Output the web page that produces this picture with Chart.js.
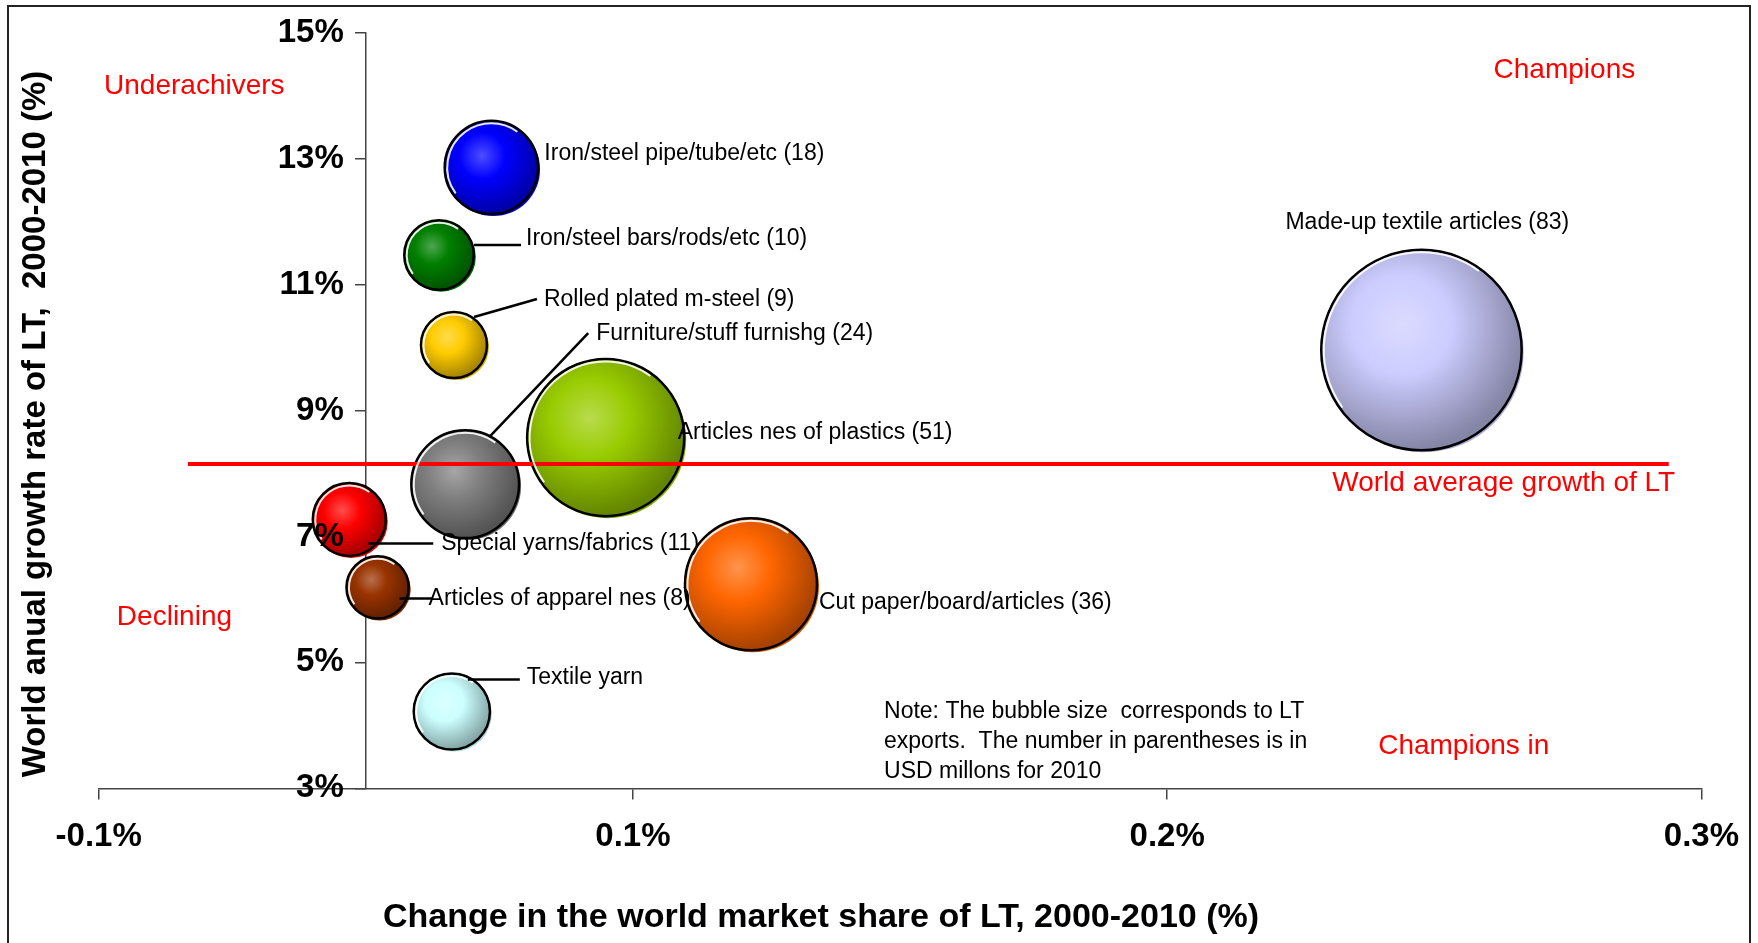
<!DOCTYPE html>
<html>
<head>
<meta charset="utf-8">
<script src="https://cdn.jsdelivr.net/npm/chart.js@4.4.1/dist/chart.umd.min.js"></script>
<style>
  html, body { margin: 0; padding: 0; background: #fff; overflow: hidden; }
  #wrap { width: 1758px; height: 943px; position: relative; }
</style>
</head>
<body>
<div id="wrap"><canvas id="chartLT"></canvas></div>
<script>
// LT products: change in world market share vs world growth, bubble = LT exports 2010 (USD millions)
const productos = ['Iron/steel pipe/tube/etc', 'Iron/steel bars/rods/etc', 'Rolled plated m-steel',
    'Furniture/stuff furnishg', 'Articles nes of plastics', 'Special yarns/fabrics',
    'Articles of apparel nes', 'Cut paper/board/articles', 'Textile yarn', 'Made-up textile articles'];
const cambioCuota = [0.0235, 0.0137, 0.0165, 0.0186, 0.0449, -0.0031, 0.0022, 0.0721, 0.0161, 0.1976];
const crecimiento = [12.86, 11.47, 10.04, 7.83, 8.57, 7.27, 6.19, 6.24, 4.22, 9.96];
const exportaciones = [18, 10, 9, 24, 51, 11, 8, 36, 12, 83];
const mostrarValor = [true, true, true, true, true, true, true, true, false, true];

// world average growth line
const promedioMundial = 8.15;
const promedioRango = [-0.0333, 0.2439];

const xTicks = [-0.05, 0.05, 0.15, 0.25];
const xTickLabels = ['-0.1%', '0.1%', '0.2%', '0.3%'];
const yTicks = [3, 5, 7, 9, 11, 13, 15];
const yTickLabels = ['3%', '5%', '7%', '9%', '11%', '13%', '15%'];

const colores = ['#0000FF', '#008000', '#FFCC00', '#808080', '#99CC00',
    '#FF0000', '#993300', '#FF6600', '#CCFFFF', '#CCCCFF'];

// label placement, pixel offsets from bubble centre (text left/middle, leader line)
const etiquetas = [
    { tx: 53, ty: -14 },
    { tx: 87, ty: -16, line: [35, -10, 82, -10] },
    { tx: 90, ty: -45, line: [20, -28, 83, -46] },
    { tx: 131, ty: -151, line: [24, -47, 123, -151] },
    { tx: 72, ty: -5 },
    { tx: 92, ty: 24, line: [19, 24, 84, 24] },
    { tx: 51, ty: 11, line: [22, 11, 55, 11] },
    { tx: 68, ty: 18 },
    { tx: 75, ty: -34, line: [16, -32, 68, -32] },
    { tx: -136, ty: -127 }
];

const cuadrantes = [
    { text: 'Underachivers', x: -0.0490, y: 14.15 },
    { text: 'Champions', x: 0.2111, y: 14.40 },
    { text: 'Declining', x: -0.0466, y: 5.72 },
    { text: 'World average growth of LT', x: 0.1809, y: 7.85 },
    { text: 'Champions in', x: 0.1895, y: 3.66 }
];
const nota = ['Note: The bubble size  corresponds to LT', 'exports.  The number in parentheses is in', 'USD millons for 2010'];
const notaPos = { x: 0.0970, y: 4.21 };

const FAMILIA = '"Liberation Sans", Arial, sans-serif';
Chart.defaults.font.family = FAMILIA;

function mezclar(hex, destino, t) {
    const a = parseInt(hex.slice(1), 16);
    const r = (a >> 16) & 255, g = (a >> 8) & 255, b = a & 255;
    const m = (c, d) => Math.round(c + (d - c) * t);
    return 'rgb(' + m(r, destino) + ',' + m(g, destino) + ',' + m(b, destino) + ')';
}

function radio(v) {
    return 11 * Math.sqrt(v);
}

function rellenoBurbuja(ctx) {
    const i = ctx.dataIndex;
    if (i === undefined) return colores[0];
    const chart = ctx.chart;
    if (!chart.chartArea) return colores[i];
    const px = chart.scales.x.getPixelForValue(cambioCuota[i]);
    const py = chart.scales.y.getPixelForValue(crecimiento[i]);
    const r = radio(exportaciones[i]);
    const g = chart.ctx.createRadialGradient(px - 0.2 * r, py - 0.25 * r, 0, px - 0.2 * r, py - 0.25 * r, r * 1.25);
    g.addColorStop(0, mezclar(colores[i], 255, 0.3));
    g.addColorStop(0.4, colores[i]);
    g.addColorStop(1, mezclar(colores[i], 0, 0.35));
    return g;
}

const anotaciones = {
    id: 'anotaciones',
    beforeDatasetsDraw(chart) {
        const ctx = chart.ctx;
        const meta = chart.getDatasetMeta(1);
        ctx.save();
        meta.data.forEach((el, i) => {
            ctx.fillStyle = mezclar(colores[i], 0, 0.15);
            ctx.beginPath();
            ctx.arc(el.x + 2, el.y + 2, radio(exportaciones[i]), 0, Math.PI * 2);
            ctx.fill();
        });
        ctx.restore();
    },
    afterDatasetsDraw(chart) {
        const ctx = chart.ctx;
        const sx = chart.scales.x, sy = chart.scales.y;
        const meta = chart.getDatasetMeta(1);
        ctx.save();
        // white rim inside the outline, upper-left side
        ctx.strokeStyle = 'rgba(255,255,255,0.9)';
        ctx.lineWidth = 2;
        meta.data.forEach((el, i) => {
            ctx.beginPath();
            ctx.arc(el.x, el.y, radio(exportaciones[i]) - 2.5, Math.PI * 0.8, Math.PI * 1.7);
            ctx.stroke();
        });

        ctx.strokeStyle = '#000';
        ctx.lineWidth = 2.5;
        ctx.fillStyle = '#000';
        ctx.font = '23px ' + FAMILIA;
        ctx.textBaseline = 'middle';
        ctx.textAlign = 'left';
        meta.data.forEach((el, i) => {
            const e = etiquetas[i];
            if (e.line) {
                ctx.beginPath();
                ctx.moveTo(el.x + e.line[0], el.y + e.line[1]);
                ctx.lineTo(el.x + e.line[2], el.y + e.line[3]);
                ctx.stroke();
            }
            const txt = productos[i] + (mostrarValor[i] ? ' (' + exportaciones[i] + ')' : '');
            ctx.fillText(txt, el.x + e.tx, el.y + e.ty);
        });

        ctx.fillStyle = '#FF0000';
        ctx.font = '28px ' + FAMILIA;
        cuadrantes.forEach(q => {
            ctx.fillText(q.text, sx.getPixelForValue(q.x), sy.getPixelForValue(q.y));
        });

        ctx.fillStyle = '#000';
        ctx.font = '23px ' + FAMILIA;
        const nx = sx.getPixelForValue(notaPos.x), ny = sy.getPixelForValue(notaPos.y);
        nota.forEach((l, k) => ctx.fillText(l, nx, ny + k * 30));

        // growth-axis tick labels sit on top of the bubbles, left of the tick marks
        ctx.font = 'bold 33px ' + FAMILIA;
        ctx.textAlign = 'right';
        const ejeX = sx.getPixelForValue(0);
        yTicks.forEach((v, k) => ctx.fillText(yTickLabels[k], ejeX - 22, sy.getPixelForValue(v)));
        ctx.restore();
    },
    afterDraw(chart) {
        const ctx = chart.ctx;
        ctx.save();
        ctx.fillStyle = '#000';
        ctx.font = 'bold 34px ' + FAMILIA;
        ctx.textAlign = 'center';
        ctx.textBaseline = 'middle';
        ctx.fillText('Change in the world market share of LT, 2000-2010 (%)', 821, 918);
        ctx.font = 'bold 33px ' + FAMILIA;
        ctx.translate(36, 424);
        ctx.rotate(-Math.PI / 2);
        ctx.fillText('World anual growth rate of LT,  2000-2010 (%)', 0, 0);
        ctx.restore();

        ctx.save();
        ctx.strokeStyle = '#222';
        ctx.lineWidth = 2;
        ctx.strokeRect(8, 6, 1742, 980);
        ctx.restore();
    }
};

const puntos = productos.map((p, i) => ({ x: cambioCuota[i], y: crecimiento[i], r: radio(exportaciones[i]) }));

const config = {
    type: 'bubble',
    data: {
        datasets: [{
            type: 'line',
            label: 'World average growth of LT',
            data: [{ x: promedioRango[0], y: promedioMundial }, { x: promedioRango[1], y: promedioMundial }],
            borderColor: '#FF0000',
            borderWidth: 4,
            pointRadius: 0,
            order: 0
        }, {
            label: 'LT exports',
            data: puntos,
            backgroundColor: rellenoBurbuja,
            borderColor: '#000',
            borderWidth: 2.5,
            hoverRadius: 0,
            order: 1
        }]
    },
    options: {
        responsive: true,
        maintainAspectRatio: false,
        animation: false,
        layout: { autoPadding: false, padding: { left: 98.7, right: 52.8, top: 32.7, bottom: 154.7 } },
        plugins: { legend: { display: false }, tooltip: { enabled: false } },
        scales: {
            x: {
                type: 'linear', min: -0.05, max: 0.25,
                position: { y: 3 },
                afterBuildTicks: (s) => { s.ticks = xTicks.map(v => ({ value: v })); },
                ticks: {
                    callback: (v, i) => xTickLabels[i],
                    font: { size: 33, weight: 'bold' }, color: '#000',
                    padding: 19, maxRotation: 0, autoSkip: false
                },
                grid: { drawOnChartArea: false, tickLength: 10, color: '#444', lineWidth: 1.5 },
                border: { display: true, color: '#444', width: 1.5 }
            },
            y: {
                type: 'linear', min: 3, max: 15,
                position: { x: 0 },
                afterBuildTicks: (s) => { s.ticks = yTicks.map(v => ({ value: v })); },
                ticks: { display: false },
                grid: { drawOnChartArea: false, tickLength: 10, color: '#444', lineWidth: 1.5 },
                border: { display: true, color: '#444', width: 1.5 }
            }
        }
    },
    plugins: [anotaciones]
};

const graficoLT = new Chart(document.getElementById('chartLT'), config);
</script>
</body>
</html>
